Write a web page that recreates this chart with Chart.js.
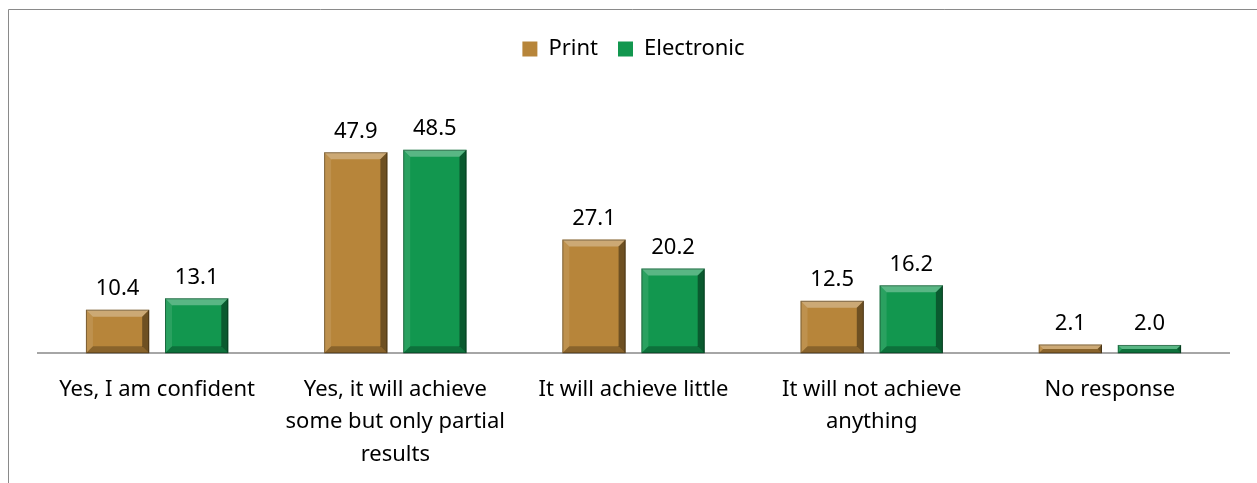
<!DOCTYPE html>
<html>
<head>
<meta charset="utf-8">
<script src="https://cdn.jsdelivr.net/npm/chart.js@4"></script>
<style>
  html, body { margin: 0; padding: 0; background: #fff; }
  #wrap { position: relative; width: 1257px; height: 483px; }
</style>
</head>
<body>
<div id="wrap"><canvas id="chart" width="1257" height="483"></canvas></div>
<script>
const categories = [
  ["Yes, I am confident"],
  ["Yes, it will achieve", "some but only partial", "results"],
  ["It will achieve little"],
  ["It will not achieve", "anything"],
  ["No response"],
];
const printValues = [10.4, 47.9, 27.1, 12.5, 2.1];
const electronicValues = [13.1, 48.5, 20.2, 16.2, 2.0];

const FONT = "'Noto Sans', sans-serif";

// frame round the chart (left + top edge, like the original)
const framePlugin = {
  id: "frame",
  beforeDraw(chart) {
    const ctx = chart.ctx;
    ctx.save();
    ctx.strokeStyle = "#8a8a8a";
    ctx.lineWidth = 1;
    ctx.beginPath();
    ctx.moveTo(8.5, 483);
    ctx.lineTo(8.5, 9.5);
    ctx.lineTo(1257, 9.5);
    ctx.stroke();
    ctx.restore();
  },
};

// bevelled bars + value labels
const bevelPlugin = {
  id: "bevel",
  afterDatasetsDraw(chart) {
    const ctx = chart.ctx;
    ctx.save();
    chart.data.datasets.forEach((ds, i) => {
      const meta = chart.getDatasetMeta(i);
      meta.data.forEach((bar, j) => {
        const l = bar.x - bar.width / 2;
        const r = bar.x + bar.width / 2;
        const t = bar.y;
        const bot = bar.base;
        const b = Math.min(7, (bot - t) / 2);
        const poly = (pts, fill) => {
          ctx.beginPath();
          ctx.moveTo(pts[0][0], pts[0][1]);
          pts.slice(1).forEach(p => ctx.lineTo(p[0], p[1]));
          ctx.closePath();
          ctx.fillStyle = fill;
          ctx.fill();
        };
        poly([[l, t], [r, t], [r - b, t + b], [l + b, t + b]], "rgba(255,255,255,0.30)");
        poly([[l, t], [l + b, t + b], [l + b, bot - b], [l, bot]], "rgba(255,255,255,0.10)");
        poly([[r, t], [r, bot], [r - b, bot - b], [r - b, t + b]], "rgba(0,0,0,0.40)");
        poly([[l, bot], [r, bot], [r - b, bot - b], [l + b, bot - b]], "rgba(0,0,0,0.25)");
        ctx.strokeStyle = "rgba(0,0,0,0.35)";
        ctx.lineWidth = 1;
        ctx.strokeRect(l + 0.5, t + 0.5, r - l - 1, bot - t - 1);

        ctx.fillStyle = "#000";
        ctx.font = "22px " + FONT;
        ctx.textAlign = "center";
        ctx.textBaseline = "bottom";
        ctx.fillText(ds.data[j].toFixed(1), bar.x, t - 10);
      });
    });
    ctx.restore();
  },
};

new Chart(document.getElementById("chart").getContext("2d"), {
  type: "bar",
  data: {
    labels: categories,
    datasets: [
      {
        label: "Print",
        data: printValues,
        backgroundColor: "#b7853a",
        borderWidth: 0,
        barPercentage: 0.8,
        categoryPercentage: 0.664,
      },
      {
        label: "Electronic",
        data: electronicValues,
        backgroundColor: "#12974f",
        borderWidth: 0,
        barPercentage: 0.8,
        categoryPercentage: 0.664,
      },
    ],
  },
  options: {
    responsive: false,
    animation: false,
    layout: { padding: { left: 38, right: 28, top: 18, bottom: 0 } },
    plugins: {
      legend: {
        position: "top",
        labels: {
          font: { family: FONT, size: 22 },
          color: "#000",
          boxWidth: 15,
          boxHeight: 15,
          padding: 20,
        },
      },
      tooltip: { enabled: false },
    },
    scales: {
      x: {
        grid: { display: false },
        border: { display: true, color: "#a6a6a6", width: 2 },
        ticks: {
          color: "#000",
          font: { family: FONT, size: 22, lineHeight: 1.48 },
          maxRotation: 0,
          autoSkip: false,
          padding: 12,
        },
      },
      y: {
        display: false,
        min: 0,
        max: 67.5,
      },
    },
  },
  plugins: [framePlugin, bevelPlugin],
});
</script>
</body>
</html>
